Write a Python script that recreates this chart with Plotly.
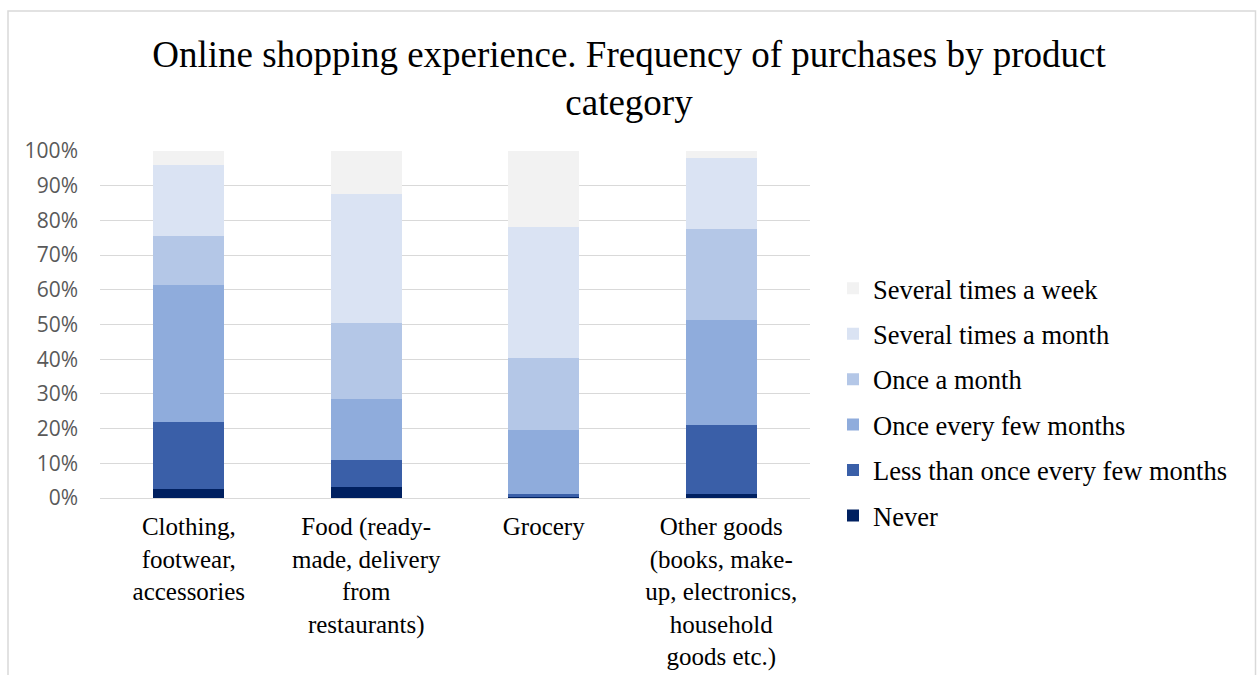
import plotly.graph_objects as go

categories = [
    "Clothing,<br>footwear,<br>accessories",
    "Food (ready-<br>made, delivery<br>from<br>restaurants)",
    "Grocery",
    "Other goods<br>(books, make-<br>up, electronics,<br>household<br>goods etc.)",
]

series_names = [
    "Never",
    "Less than once every few months",
    "Once every few months",
    "Once a month",
    "Several times a month",
    "Several times a week",
]

never = [2.6, 3.1, 0.3, 1.2]
less_than_few_months = [19.4, 7.9, 0.9, 19.7]
once_few_months = [39.5, 17.4, 18.3, 30.3]
once_month = [14.0, 21.9, 20.9, 26.3]
several_month = [20.4, 37.2, 37.6, 20.5]
several_week = [4.1, 12.5, 22.0, 2.0]

values = [never, less_than_few_months, once_few_months, once_month, several_month, several_week]
colors = ["#002060", "#3A5FA8", "#8FACDC", "#B4C7E7", "#DAE3F3", "#F2F2F2"]

tick_vals = [0, 10, 20, 30, 40, 50, 60, 70, 80, 90, 100]
tick_text = ["0%", "10%", "20%", "30%", "40%", "50%", "60%", "70%", "80%", "90%", "100%"]

fig = go.Figure()
n = len(series_names)
for i, (name, vals, col) in enumerate(zip(series_names, values, colors)):
    fig.add_trace(go.Bar(
        x=categories, y=vals, name=name, legendgroup=name,
        legendrank=1000 + (n - i),
        marker=dict(color=col, line=dict(width=0)),
    ))

L, R, T, B = 100, 448, 151, 177
W, H = 1258, 675
pw, ph = W - L - R, H - T - B

def px_x(p):
    return (p - L) / pw

def px_y(p):
    return (H - B - p) / ph

fig.update_layout(
    width=W, height=H,
    margin=dict(l=L, r=R, t=T, b=B, autoexpand=False),
    paper_bgcolor="white", plot_bgcolor="white",
    barmode="stack", bargap=0.6,
    title=dict(
        text="Online shopping experience. Frequency of purchases by product<br>category",
        font=dict(family="Liberation Serif, Times New Roman, serif", size=37, color="#000000"),
        x=0.5, xanchor="center", xref="container",
        y=1 - 67 / H, yanchor="top", yref="container",
    ),
    xaxis=dict(
        showgrid=False, showline=True, linecolor="#D9D9D9", linewidth=1,
        ticks="", tickfont=dict(family="Liberation Serif, Times New Roman, serif", size=25, color="#000000"),
        ticklabelstandoff=6, automargin=False,
        fixedrange=True,
    ),
    yaxis=dict(
        range=[0, 100], tickvals=tick_vals, ticktext=tick_text,
        showgrid=True, gridcolor="#D9D9D9", gridwidth=1,
        zeroline=False, showline=False, ticks="",
        tickfont=dict(family="Open Sans, Liberation Sans, sans-serif", size=21, color="#595959"),
        ticklabelstandoff=21, automargin=False,
    ),
    legend=dict(
        traceorder="grouped",
        x=px_x(833), xanchor="left",
        y=px_y(402), yanchor="middle",
        font=dict(family="Liberation Serif, Times New Roman, serif", size=26.5, color="#000000"),
        tracegroupgap=8, itemwidth=30, bgcolor="rgba(0,0,0,0)",
    ),
    shapes=[dict(
        type="rect", xref="paper", yref="paper",
        x0=px_x(8), x1=px_x(1255.5), y0=px_y(720), y1=px_y(11),
        line=dict(color="#D9D9D9", width=1.5), fillcolor="rgba(0,0,0,0)", layer="below",
    )],
    showlegend=True,
)

fig.write_html("out.html")
